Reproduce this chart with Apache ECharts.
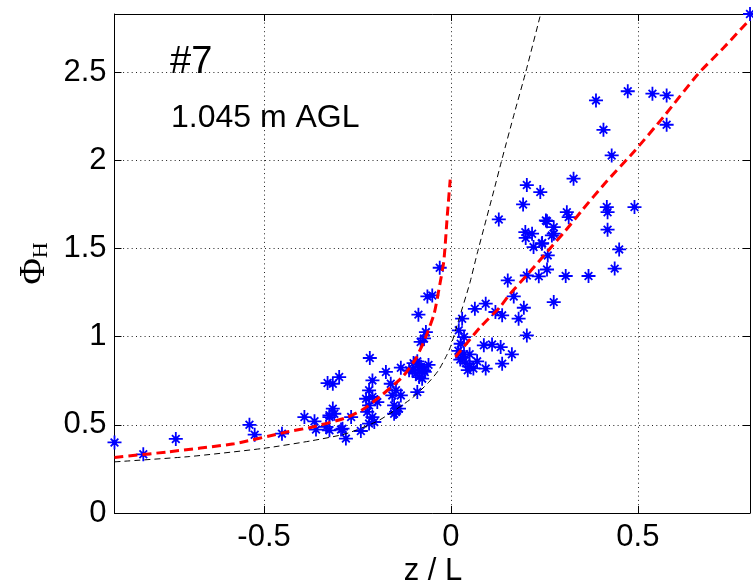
<!DOCTYPE html>
<html>
<head>
<meta charset="utf-8">
<script src="https://cdn.jsdelivr.net/npm/echarts@6/dist/echarts.min.js"></script>
<style>html,body{margin:0;padding:0;background:#fff;}#c{width:753px;height:585px;}</style>
</head>
<body>
<div id="c"></div>
<script>
// Axis ranges
const xRange = [-0.9, 0.8];
const yRange = [0, 2.83];

// Observations (blue asterisks): z/L and Phi_H
const obsX = [
 -0.90,-0.823,-0.736,-0.539,-0.525,-0.452,-0.392,-0.365,-0.361,-0.325,-0.316,-0.33,-0.299,-0.217,-0.174,-0.21,
 -0.134,-0.103,-0.085,-0.085,-0.094,-0.072,-0.077,-0.112,-0.10,-0.09,-0.08,-0.07,-0.06,-0.161,-0.147,-0.157,
 -0.134,-0.219,-0.21,-0.227,-0.197,-0.219,-0.224,-0.21,-0.152,-0.147,-0.152,-0.09,-0.316,-0.312,-0.325,-0.267,
 -0.334,-0.29,-0.281,-0.241,-0.219,-0.205,-0.063,-0.05,-0.087,-0.067,-0.081,-0.072,-0.03,-0.139,-0.294,-0.325,
 0.193,0.239,0.128,0.199,0.217,0.257,0.275,0.221,0.243,0.259,0.257,0.235,0.203,0.152,0.168,0.275,0.195,0.181,
 0.203,0.093,0.064,0.119,0.137,0.03,0.021,0.035,0.026,0.088,0.11,0.133,0.163,0.137,0.093,
 0.02,0.03,0.04,0.05,0.06,0.035,0.07,0.05,0.045,0.025,
 0.388,0.473,0.539,0.577,0.577,0.408,0.43,0.328,0.31,0.315,0.417,0.419,0.491,0.419,0.254,0.275,0.27,0.244,
 0.45,0.438,0.368,0.307,0.80,0.203,0.20
];
const obsY = [
 0.40,0.333,0.42,0.50,0.444,0.45,0.544,0.52,0.473,0.544,0.733,0.737,0.771,0.879,0.80,0.752,
 0.824,0.809,0.828,0.771,0.79,0.809,0.762,0.809,0.85,0.86,0.83,0.80,0.84,0.733,0.696,0.667,
 0.667,0.696,0.658,0.648,0.629,0.61,0.573,0.544,0.61,0.573,0.563,0.686,0.592,0.563,0.554,0.544,
 0.488,0.478,0.422,0.465,0.507,0.516,1.228,1.234,1.125,1.026,0.97,0.99,1.391,0.592,0.473,0.469,
 1.75,1.82,1.665,1.593,1.584,1.655,1.584,1.508,1.527,1.461,1.381,1.342,1.347,1.319,1.228,1.196,1.164,1.102,
 1.007,1.187,1.158,1.14,1.121,1.102,1.036,0.998,0.96,0.951,0.956,0.941,0.90,0.847,0.819,
 0.92,0.88,0.85,0.83,0.82,0.90,0.86,0.90,0.81,0.87,
 2.34,2.392,2.378,2.368,2.202,2.173,2.028,1.896,1.706,1.678,1.735,1.706,1.735,1.607,1.659,1.621,1.574,1.531,
 1.495,1.386,1.344,1.344,2.83,1.86,1.56
];

// Red dashed fit, unstable branch
const redUnsX = [-0.9,-0.76,-0.58,-0.44,-0.37,-0.28,-0.237,-0.19,-0.13,-0.094,-0.067,-0.045,-0.032,-0.019,-0.01,-0.002];
const redUnsY = [0.315,0.346,0.393,0.459,0.488,0.54,0.585,0.66,0.771,0.875,1.0,1.13,1.27,1.43,1.68,1.89];
// Red dashed fit, stable branch
const redStaX = [0.012,0.079,0.132,0.159,0.208,0.261,0.306,0.35,0.412,0.49,0.57,0.661,0.73,0.8];
const redStaY = [0.885,1.055,1.17,1.245,1.36,1.49,1.6,1.715,1.87,2.05,2.25,2.49,2.64,2.8];
// Black dashed reference curve
const blkX = [-0.9,-0.7,-0.5,-0.372,-0.28,-0.193,-0.105,-0.06,-0.033,-0.01,0.0,0.02,0.05,0.07,0.09,0.115,0.137,0.17,0.2,0.24];
const blkY = [0.29,0.32,0.367,0.41,0.45,0.525,0.65,0.74,0.81,0.9,0.95,1.09,1.3,1.47,1.63,1.83,2.01,2.27,2.5,2.83];

const pairs = (xs, ys) => xs.map((x, i) => [x, ys[i]]);
const isMajor = v => Math.abs(v / 0.5 - Math.round(v / 0.5)) < 1e-6;
const tickFont = { fontFamily: 'Liberation Sans', fontSize: 31, color: '#000' };

const chart = echarts.init(document.getElementById('c'));
chart.setOption({
  animation: false,
  backgroundColor: '#fff',
  grid: { left: 114.5, right: 1.5, top: 14, bottom: 72, containLabel: false },
  xAxis: [{
    type: 'value', min: xRange[0], max: xRange[1], splitNumber: 3,
    axisLine: { onZero: false, lineStyle: { color: '#000', width: 1 } },
    axisTick: { inside: true, length: 7, lineStyle: { color: '#000' } },
    axisLabel: Object.assign({ margin: 9, formatter: v => isMajor(v) ? String(v) : '' }, tickFont),
    splitLine: { show: true, lineStyle: { color: '#222', type: [1, 3.3], width: 1 } }
  }, {
    type: 'value', position: 'top', min: xRange[0], max: xRange[1], splitNumber: 3,
    axisLine: { onZero: false, lineStyle: { color: '#000', width: 1 } },
    axisTick: { inside: true, length: 7, lineStyle: { color: '#000' } },
    axisLabel: { show: false }, splitLine: { show: false }
  }],
  yAxis: [{
    type: 'value', min: yRange[0], max: yRange[1], interval: 0.5,
    name: '{p|Φ}{h|H}', nameLocation: 'middle', nameRotate: 90, nameGap: 60,
    nameTextStyle: {
      color: '#000',
      rich: {
        p: { fontFamily: 'Liberation Serif', fontSize: 36, lineHeight: 36, verticalAlign: 'top', color: '#000' },
        h: { fontFamily: 'Liberation Serif', fontSize: 22, lineHeight: 22, verticalAlign: 'bottom', padding: [22, 0, 0, 0], color: '#000' }
      }
    },
    axisLine: { onZero: false, lineStyle: { color: '#000', width: 1 } },
    axisTick: { inside: true, length: 7, lineStyle: { color: '#000' } },
    axisLabel: Object.assign({ margin: 8, formatter: v => isMajor(v) ? String(v) : '' }, tickFont),
    splitLine: { show: true, lineStyle: { color: '#222', type: [1, 3.3], width: 1 } }
  }, {
    type: 'value', position: 'right', min: yRange[0], max: yRange[1], interval: 0.5,
    axisLine: { onZero: false, lineStyle: { color: '#000', width: 1 } },
    axisTick: { inside: true, length: 7, lineStyle: { color: '#000' } },
    axisLabel: { show: false }, splitLine: { show: false }
  }],
  series: [
    {
      type: 'scatter', data: pairs(obsX, obsY), z: 2,
      symbol: 'path://M0,-10L0,10M-10,0L10,0M-5.5,-5.5L5.5,5.5M-5.5,5.5L5.5,-5.5M-2.2,-2.2L2.2,-2.2L2.2,2.2L-2.2,2.2Z',
      symbolSize: 14,
      itemStyle: { color: '#0000ff', borderColor: '#0000ff', borderWidth: 1.8, opacity: 1 }
    },
    {
      type: 'line', data: pairs(blkX, blkY), showSymbol: false, smooth: 0.2, z: 3,
      lineStyle: { color: '#000', width: 1, type: [6, 4] }
    },
    {
      type: 'line', data: pairs(redUnsX, redUnsY), showSymbol: false, smooth: 0.2, z: 4,
      lineStyle: { color: '#ff0000', width: 3, type: [9, 5] }
    },
    {
      type: 'line', data: pairs(redStaX, redStaY), showSymbol: false, smooth: 0.2, z: 4,
      lineStyle: { color: '#ff0000', width: 3, type: [9, 5] }
    }
  ],
  graphic: [
    { type: 'text', x: 170, y: 62.5, style: { text: '#7', font: '38px "Liberation Sans"', fill: '#000', align: 'left', verticalAlign: 'middle' } },
    { type: 'text', x: 171, y: 118.5, style: { text: '1.045 m AGL', font: '32px "Liberation Sans"', fill: '#000', align: 'left', verticalAlign: 'middle' } },
    { type: 'text', x: 433, y: 571, style: { text: 'z / L', font: '31px "Liberation Sans"', fill: '#000', align: 'center', verticalAlign: 'middle' } }
  ]
});
</script>
</body>
</html>
